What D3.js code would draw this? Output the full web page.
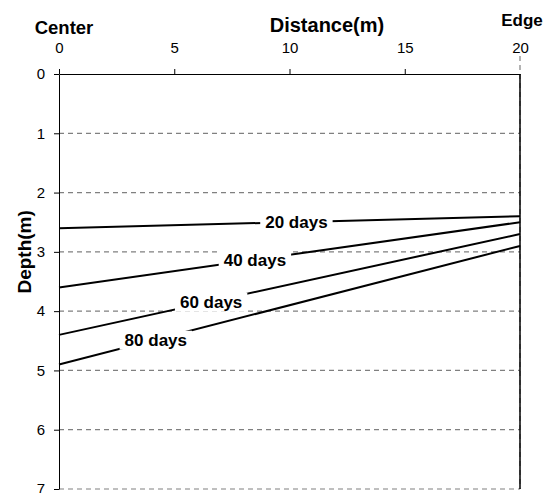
<!DOCTYPE html>
<html>
<head>
<meta charset="utf-8">
<script src="https://cdn.jsdelivr.net/npm/d3@7"></script>
<style>
  body { margin: 0; background: #fff; }
  svg { font-family: Arial, 'Liberation Sans', sans-serif; }
  .grid line { stroke: #808080; stroke-dasharray: 5,4; stroke-width: 1.2; }
  .depth-line { fill: none; stroke: #000; stroke-width: 2; }
  .line-label { font-size: 17px; font-weight: bold; }
</style>
</head>
<body>
<div id="vis"></div>
<script>
const xTicks = [0, 5, 10, 15, 20]
const yTicks = [0, 1, 2, 3, 4, 5, 6, 7]
const seriesNames = ['20 days', '40 days', '60 days', '80 days']
const centerDepth = [2.6, 3.6, 4.4, 4.9]
const edgeDepth = [2.4, 2.5, 2.7, 2.9]
const labelDistance = [10.3, 8.5, 6.6, 4.2]

const width = 547
const height = 493
const margin = { top: 74, right: 27, bottom: 4, left: 59 }

const svg = d3.select('#vis').append('svg')
  .attr('width', width).attr('height', height)

const x = d3.scaleLinear().domain([0, 20]).range([margin.left, width - margin.right])
const y = d3.scaleLinear().domain([0, 7]).range([margin.top, height - margin.bottom])

// dashed gridlines
svg.append('g').attr('class', 'grid')
  .selectAll('line')
  .data(yTicks.filter(d => d > 0))
  .join('line')
  .attr('x1', x(0)).attr('x2', x(20))
  .attr('y1', d => y(d)).attr('y2', d => y(d))

svg.append('g').attr('class', 'grid')
  .append('line')
  .attr('x1', x(20)).attr('x2', x(20))
  .attr('y1', y(0) - 18).attr('y2', y(7))

// right edge
svg.append('line')
  .attr('x1', x(20)).attr('x2', x(20))
  .attr('y1', y(0)).attr('y2', y(7))
  .attr('stroke', '#000').attr('stroke-width', 1.5)

const xAxis = d3.axisTop(x).tickValues(xTicks).tickFormat(d3.format('d'))
  .tickSizeInner(5).tickSizeOuter(0).tickPadding(16)
const yAxis = d3.axisLeft(y).tickValues(yTicks).tickFormat(d3.format('d'))
  .tickSizeInner(5).tickSizeOuter(0).tickPadding(9)

const gx = svg.append('g')
  .attr('transform', `translate(0,${y(0)})`)
  .call(xAxis)
const gy = svg.append('g')
  .attr('transform', `translate(${x(0)},0)`)
  .call(yAxis)

for (const g of [gx, gy]) {
  g.selectAll('text').attr('font-size', 15).attr('font-family', null).attr('fill', '#000')
  g.selectAll('line, path').attr('stroke', '#000')
}
gx.selectAll('text').attr('dy', 0)
gx.selectAll('.tick').filter(d => d === 20).select('line').remove()

// lines
const lines = seriesNames.map((name, i) => ({
  name,
  pts: [[0, centerDepth[i]], [20, edgeDepth[i]]],
  lx: labelDistance[i]
}))

const line = d3.line().x(d => x(d[0])).y(d => y(d[1]))

svg.append('g').selectAll('path')
  .data(lines)
  .join('path')
  .attr('class', 'depth-line')
  .attr('d', d => line(d.pts))

const labels = svg.append('g').selectAll('g')
  .data(lines)
  .join('g')
  .attr('transform', d => {
    const t = d.lx / 20
    const dy = d.pts[0][1] + (d.pts[1][1] - d.pts[0][1]) * t
    return `translate(${x(d.lx)},${y(dy)})`
  })

labels.append('text')
  .attr('class', 'line-label')
  .attr('text-anchor', 'middle')
  .attr('dy', '0.36em')
  .text(d => d.name)

labels.each(function () {
  const g = d3.select(this)
  const bb = g.select('text').node().getBBox()
  g.insert('rect', 'text')
    .attr('x', bb.x - 5).attr('y', bb.y)
    .attr('width', bb.width + 10).attr('height', bb.height)
    .attr('fill', '#fff')
})

// titles
svg.append('text')
  .attr('x', 327).attr('y', 32)
  .attr('text-anchor', 'middle')
  .attr('font-size', 20).attr('font-weight', 'bold')
  .text('Distance(m)')

svg.append('text')
  .attr('x', 64).attr('y', 34)
  .attr('text-anchor', 'middle')
  .attr('font-size', 18.5).attr('font-weight', 'bold')
  .text('Center')

svg.append('text')
  .attr('x', 522).attr('y', 26)
  .attr('text-anchor', 'middle')
  .attr('font-size', 17).attr('font-weight', 'bold')
  .text('Edge')

svg.append('text')
  .attr('transform', `translate(31,${y(3)}) rotate(-90)`)
  .attr('text-anchor', 'middle')
  .attr('font-size', 19).attr('font-weight', 'bold')
  .text('Depth(m)')
</script>
</body>
</html>
